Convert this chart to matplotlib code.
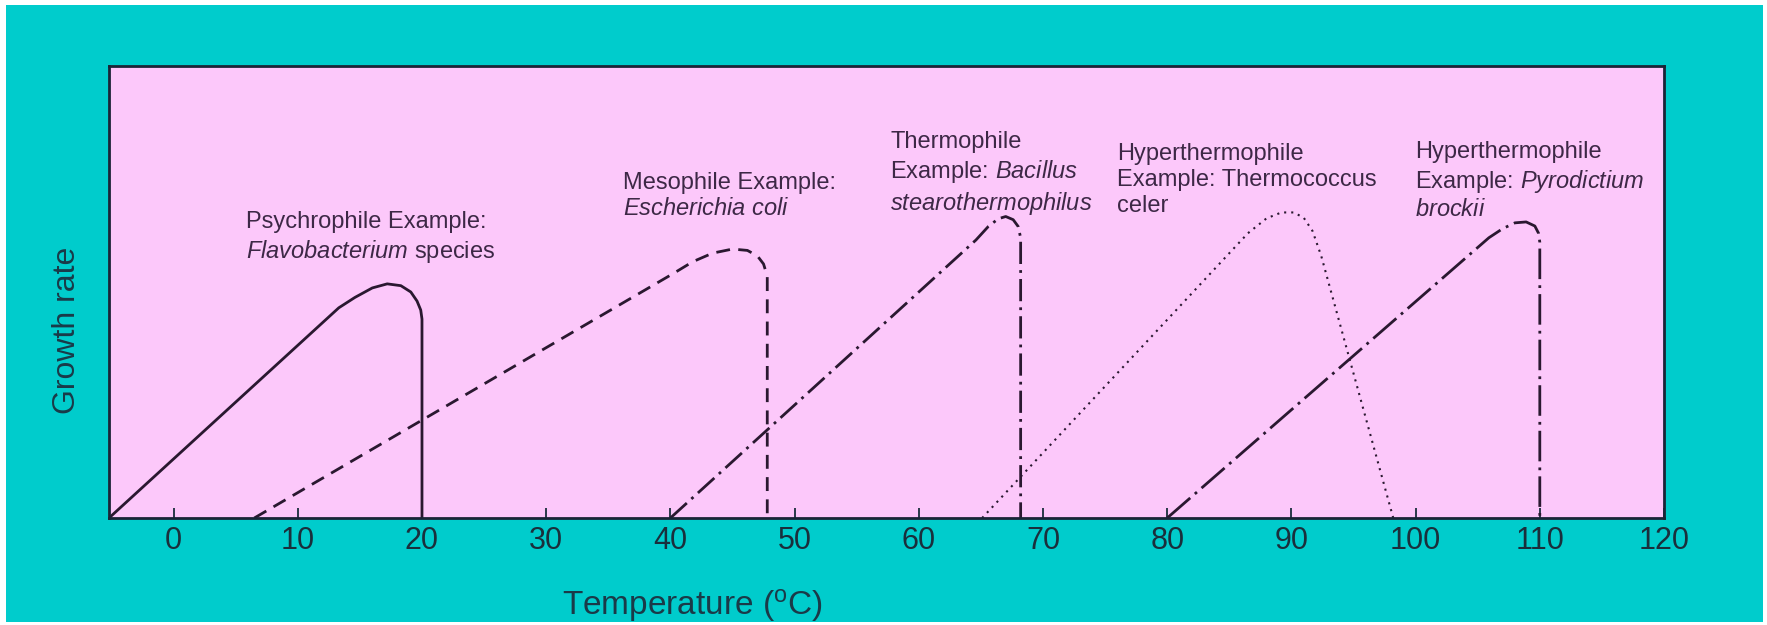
import matplotlib
matplotlib.use("Agg")
import matplotlib.pyplot as plt
from matplotlib.patches import Rectangle

plt.rcParams['font.family'] = ['Liberation Sans', 'DejaVu Sans']
plt.rcParams['mathtext.fontset'] = 'custom'
plt.rcParams['mathtext.rm'] = 'Liberation Sans'
plt.rcParams['mathtext.it'] = 'Liberation Sans:italic'

# ---------------- data ----------------
x_ticks = [0, 10, 20, 30, 40, 50, 60, 70, 80, 90, 100, 110, 120]

psy_t = [-5.2, 13.3, 14.6, 16.0, 17.2, 18.3, 19.1, 19.6, 19.9, 20.0, 20.0]
psy_g = [0, 46.5, 48.8, 50.9, 51.8, 51.4, 50.0, 48.0, 46.0, 44.0, 0]

meso_t = [6.5, 40.3, 41.8, 43.4, 45.0, 46.2, 47.0, 47.5, 47.8, 47.8]
meso_g = [0, 54.2, 56.7, 58.6, 59.5, 59.2, 58.0, 56.2, 53.5, 0]

thermo_t = [40.0, 64.6, 65.6, 66.4, 67.0, 67.6, 68.0, 68.2, 68.2]
thermo_g = [0, 61.5, 64.5, 66.2, 66.7, 66.0, 64.5, 62.0, 0]

hyper_t = [65.1, 86.5, 88.0, 89.2, 90.2, 91.0, 91.7, 92.4, 98.2]
hyper_g = [0, 63.0, 66.3, 67.6, 67.6, 66.4, 63.5, 58.0, 0]

pyro_t = [80.0, 105.9, 107.0, 108.0, 108.9, 109.6, 109.9, 110.0, 110.0]
pyro_g = [0, 62.0, 64.0, 65.3, 65.5, 64.6, 63.0, 61.0, 0]

labels = [
    "Psychrophile Example:\n$\\it{Flavobacterium}$ species",
    "Mesophile Example:\n$\\it{Escherichia\\ coli}$",
    "Thermophile\nExample: $\\it{Bacillus}$\n$\\it{stearothermophilus}$",
    "Hyperthermophile\nExample: Thermococcus\nceler",
    "Hyperthermophile\nExample: $\\it{Pyrodictium}$\n$\\it{brockii}$",
]

# ---------------- styling ----------------
W, H = 1767, 625
fig = plt.figure(figsize=(W / 100, H / 100), dpi=100)
fig.patch.set_facecolor('white')
fig.add_artist(Rectangle((6 / W, 3 / H), (1763 - 6) / W, (620 - 3) / H,
                         transform=fig.transFigure, facecolor='#00CCCC',
                         edgecolor='none', zorder=-10))

ax = fig.add_axes([109 / W, (H - 518) / H, (1664 - 109) / W, (518 - 66) / H])
ax.set_facecolor('#FCC8FA')

line_col = '#2a1830'
ax.plot(psy_t, psy_g, color=line_col, lw=2.0, linestyle='-', solid_joinstyle='round')
ax.plot(meso_t, meso_g, color=line_col, lw=2.0, linestyle=(0, (5, 3)))
ax.plot(thermo_t, thermo_g, color=line_col, lw=2.0, linestyle=(0, (8, 2.2, 1, 2.2)))
ax.plot(hyper_t, hyper_g, color=line_col, lw=1.5, linestyle=(0, (1, 2.4)))
ax.plot(pyro_t, pyro_g, color=line_col, lw=2.0, linestyle=(0, (11, 2.2, 1, 2.2)))

ax.set_xlim(-5.2, 120)
ax.set_ylim(0, 100)
ax.set_xticks(x_ticks)
ax.set_xticklabels([str(t) for t in x_ticks])
ax.set_yticks([])
ax.tick_params(axis='x', direction='in', length=7.5, width=1.3, pad=6,
               labelsize=22, colors='#1a2f3c')
for s in ax.spines.values():
    s.set_linewidth(2.0)
    s.set_color('#1a2436')

text_col = '#3d2846'
label_pos = [(0.0881, 0.620), (0.3305, 0.712), (0.5023, 0.762),
             (0.648, 0.748), (0.840, 0.746)]
for (lx, ly), txt in zip(label_pos, labels):
    ax.text(lx, ly, txt, transform=ax.transAxes, ha='left', va='center',
            fontsize=17, color=text_col, linespacing=1.25)

ax.set_xlabel("Temperature ($\\mathregular{^o}$C)", fontsize=24, color='#1a3a48')
ax.xaxis.set_label_coords(0.3755, -0.193)
ax.xaxis.label.set_va('center')
ax.set_ylabel("Growth rate", fontsize=23, color='#1a3a48')
ax.yaxis.set_label_coords(-0.027, 0.416)
ax.yaxis.label.set_va('center')

fig.savefig('out.png', dpi=100)
